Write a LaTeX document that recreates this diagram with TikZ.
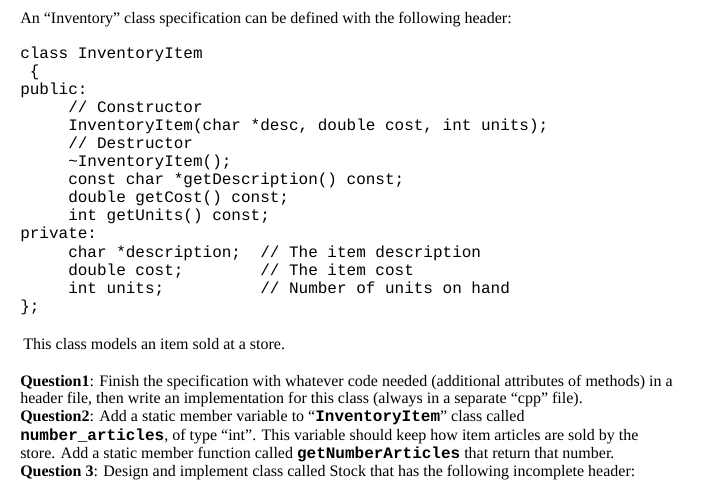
\documentclass[tikz,border=0pt]{standalone}
\usepackage{fontspec}
\setmainfont{Liberation Serif}
\setmonofont{Liberation Mono}
\begin{document}
\begin{tikzpicture}[x=0.75pt,y=-0.75pt,
  txt/.style={anchor=base west,inner sep=0pt,font=\fontsize{12}{14}\selectfont},
  code/.style={anchor=base west,inner sep=0pt,font=\fontsize{12}{14}\ttfamily}]
\fill[white] (0,0) rectangle (703,489);
\node[txt] (t1) at (20,23) {An “Inventory” class specification can be defined with the following header:};
\node[code] (c1) at (20,58) {class InventoryItem};
\node[code] (c2) at (20,76) {\ \{};
\node[code] (c3) at (20,94) {public:};
\node[code] (c4) at (68,112) {// Constructor};
\node[code] (c5) at (68,130) {InventoryItem(char *desc, double cost, int units);};
\node[code] (c6) at (68,148) {// Destructor};
\node[code] (c7) at (68,166) {\textasciitilde InventoryItem();};
\node[code] (c8) at (68,184) {const char *getDescription() const;};
\node[code] (c9) at (68,202) {double getCost() const;};
\node[code] (c10) at (68,220) {int getUnits() const;};
\node[code] (c11) at (20,238) {private:};
\node[code] (c12) at (68,257) {char *description;};
\node[code] (c13) at (68,275) {double cost;};
\node[code] (c14) at (68,293) {int units;};
\node[code] (k12) at (260,257) {// The item description};
\node[code] (k13) at (260,275) {// The item cost};
\node[code] (k14) at (260,293) {// Number of units on hand};
\node[code] (c15) at (20,311) {\};};
\node[txt] (t2) at (23,349) {This class models an item sold at a store.};
\node[txt] (q1) at (20,386) {\textbf{Question1}: Finish the specification with whatever code needed (additional attributes of methods) in a};
\node[txt] (q2) at (20,403) {header file, then write an implementation for this class (always in a separate “cpp” file).};
\node[txt] (q3) at (20,421) {\textbf{Question2}: Add a static member variable to “\textbf{\texttt{InventoryItem}}” class called};
\node[txt] (q4) at (20,440) {\textbf{\texttt{number\_articles}}, of type “int”. This variable should keep how item articles are sold by the};
\node[txt] (q5) at (20,458) {store. Add a static member function called \textbf{\texttt{getNumberArticles}} that return that number.};
\node[txt] (q6) at (20,476) {\textbf{Question 3}: Design and implement class called Stock that has the following incomplete header:};
\end{tikzpicture}
\end{document}
